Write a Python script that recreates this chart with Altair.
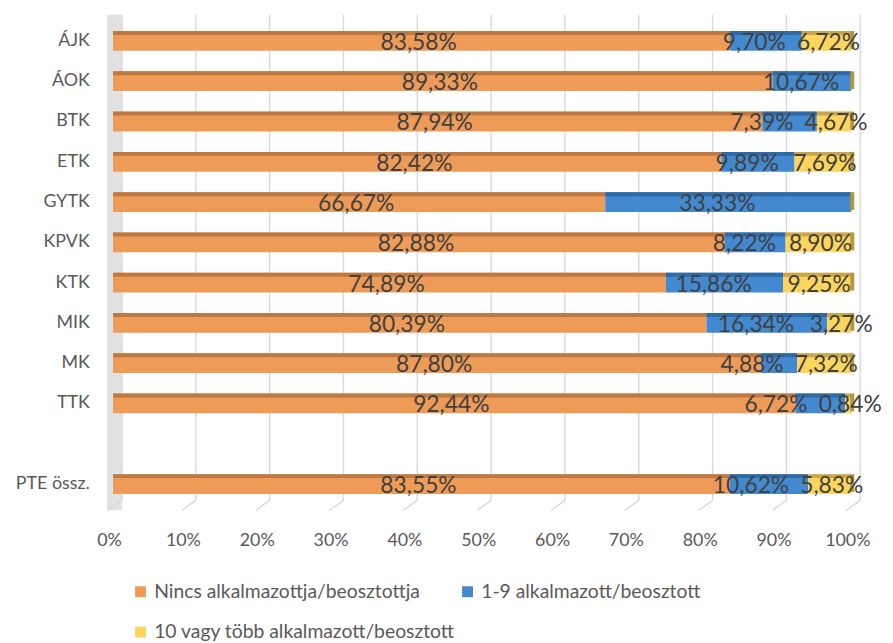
import altair as alt
import pandas as pd

categories = ["ÁJK", "ÁOK", "BTK", "ETK", "GYTK", "KPVK", "KTK", "MIK", "MK", "TTK", " ", "PTE össz."]
series = ["Nincs alkalmazottja/beosztottja", "1-9 alkalmazott/beosztott", "10 vagy több alkalmazott/beosztott"]
nincs = [83.58, 89.33, 87.94, 82.42, 66.67, 82.88, 74.89, 80.39, 87.80, 92.44, None, 83.55]
egy_kilenc = [9.70, 10.67, 7.39, 9.89, 33.33, 8.22, 15.86, 16.34, 4.88, 6.72, None, 10.62]
tiz_tobb = [6.72, 0.0, 4.67, 7.69, 0.0, 8.90, 9.25, 3.27, 7.32, 0.84, None, 5.83]
ticks = [0, 0.1, 0.2, 0.3, 0.4, 0.5, 0.6, 0.7, 0.8, 0.9, 1.0]

colors = ["#EE9B58", "#4389CF", "#FCD55E"]
top_colors = ["#BE7942", "#2F6AA6", "#C9A64A"]
side_color = "#B5963F"
text_color = "#404040"
axis_color = "#595959"
grid_color = "#D9D9D9"
FONT = "Lato"

PLOT_W = 745
LABEL_FS = 23


def label_width_px(text):
    # approximate width of a label in Lato at LABEL_FS
    w = 0.0
    for ch in text:
        w += 0.58 if ch.isdigit() else (0.25 if ch == "," else 0.83)
    return w * LABEL_FS


rows = []
for i, cat in enumerate(categories):
    vals = [nincs[i], egy_kilenc[i], tiz_tobb[i]]
    if vals[0] is None:
        continue
    start = 0.0
    segs = []
    for s, v, tc in zip(series, vals, top_colors):
        end = start + v / 100.0
        segs.append({
            "cat": cat, "series": s, "v": v,
            "start": start, "end": end, "mid": (start + end) / 2,
            "label": f"{v:.2f}".replace(".", ",") + "%",
            "tc": tc,
        })
        start = end
    # label placement (Excel-like): small nudges, blue label kept clear of the yellow one
    segs[0]["lx"] = segs[0]["mid"] - 3 / PLOT_W
    segs[2]["lx"] = segs[2]["mid"] + 2 / PLOT_W
    blue_x = segs[1]["mid"] - 11 / PLOT_W
    if segs[2]["v"] > 0:
        yl = segs[2]["lx"] - label_width_px(segs[2]["label"]) / 2 / PLOT_W
        limit = yl - (10 + label_width_px(segs[1]["label"]) / 2) / PLOT_W
        blue_x = min(blue_x, limit)
    segs[1]["lx"] = blue_x
    rows.extend(segs)

df = pd.DataFrame(rows)
cats_df = pd.DataFrame({"cat": [c for c, n in zip(categories, nincs) if n is not None]})
ticks_df = pd.DataFrame({"t": ticks})

# legend is filled column by column: order so that it reads like the original
legend_order = [series[0], series[2], series[1]]
legend_colors = [colors[0], colors[2], colors[1]]

xscale = alt.Scale(domain=[0, 1], nice=False, zero=True)
yscale = alt.Scale(domain=categories, paddingInner=0.51, paddingOuter=0.255)

x_axis = alt.Axis(title=None, format=".0%", values=ticks, domain=False, ticks=False, grid=False,
                  labelFont=FONT, labelFontSize=18, labelColor=axis_color, labelPadding=28,
                  labelOffset=-4, labelFlush=False)
y_axis = alt.Axis(title=None, domain=False, ticks=False, grid=False,
                  labelFont=FONT, labelFontSize=18, labelColor=axis_color, labelPadding=24)

wall = alt.Chart(pd.DataFrame({"a": [0]})).mark_rect(
    color="#E2E2E2", xOffset=-6, x2Offset=9
).encode(
    x=alt.X("a:Q", scale=xscale, axis=x_axis), x2=alt.X2("a:Q"),
    y=alt.value(-6), y2=alt.value(494),
)

grid = alt.Chart(ticks_df).mark_rule(color=grid_color, strokeWidth=1.4, xOffset=9).encode(
    x=alt.X("t:Q", scale=xscale), y=alt.value(-6), y2=alt.value(484),
)
diag = alt.Chart(ticks_df).mark_rule(color=grid_color, strokeWidth=1.4, xOffset=9, x2Offset=-5).encode(
    x=alt.X("t:Q", scale=xscale), x2=alt.X2("t:Q"), y=alt.value(484), y2=alt.value(494),
)

bars = alt.Chart(df).mark_bar().encode(
    y=alt.Y("cat:N", scale=yscale, axis=y_axis, sort=categories),
    x=alt.X("start:Q", scale=xscale),
    x2="end:Q",
    color=alt.Color("series:N", scale=alt.Scale(domain=legend_order, range=legend_colors),
                    legend=alt.Legend(title=None, orient="none", legendX=18, legendY=566,
                                      columns=2, symbolType="square", symbolSize=121,
                                      symbolStrokeWidth=0, labelFont=FONT, labelFontSize=19.5,
                                      labelColor=axis_color, rowPadding=20, columnPadding=2,
                                      padding=0, labelOffset=4, labelLimit=500)),
)

tops = alt.Chart(df).mark_bar(height=4, yOffset=-8).encode(
    y=alt.Y("cat:N", scale=yscale, sort=categories),
    x=alt.X("start:Q", scale=xscale),
    x2="end:Q",
    fill=alt.Fill("tc:N", scale=None),
)

side = alt.Chart(cats_df.assign(one=1.0)).mark_bar(color=side_color, xOffset=-1, x2Offset=3, height=18, yOffset=-1).encode(
    y=alt.Y("cat:N", scale=yscale, sort=categories),
    x=alt.X("one:Q", scale=xscale), x2="one:Q",
)

labels = alt.Chart(df).transform_filter("datum.v > 0").mark_text(
    font=FONT, fontSize=LABEL_FS, color=text_color, dy=2, baseline="middle", align="center"
).encode(
    y=alt.Y("cat:N", scale=yscale, sort=categories),
    x=alt.X("lx:Q", scale=xscale),
    text="label:N",
)

chart = alt.layer(wall, grid, diag, bars, tops, side, labels).properties(
    width=PLOT_W, height=487.8,
    autosize=alt.AutoSizeParams(type="none"),
    padding={"left": 106, "top": 10, "right": 34, "bottom": 142},
    background="white",
).configure_view(stroke=None)

chart.save("out.html", embed_options={"renderer": "svg", "actions": False})
